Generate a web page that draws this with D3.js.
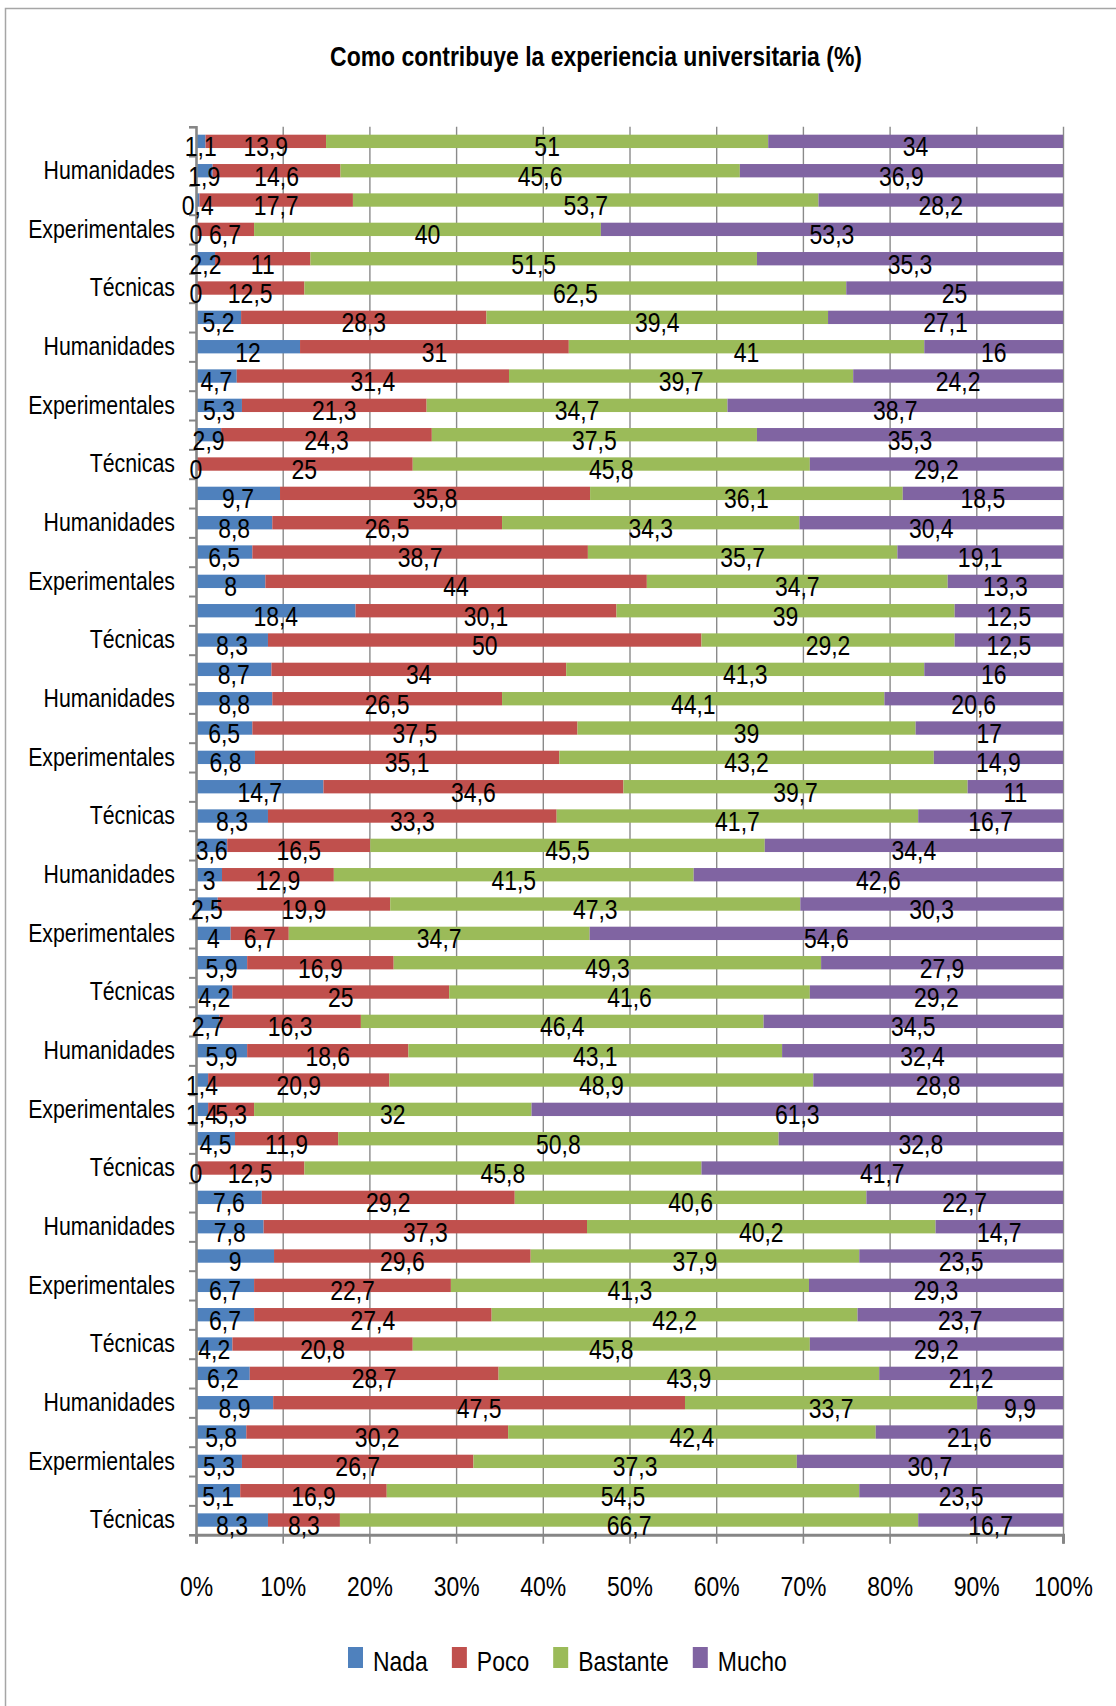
<!DOCTYPE html>
<html>
<head>
<meta charset="utf-8">
<script src="https://cdn.jsdelivr.net/npm/d3@7"></script>
<style>
  html, body { margin: 0; padding: 0; background: #fff; }
  svg { display: block; }
  text { font-family: "Liberation Sans", Arial, sans-serif; fill: #000; }
</style>
</head>
<body>
<script>
// ---- data ----
const title = "Como contribuye la experiencia universitaria (%)";
const seriesNames = ["Nada", "Poco", "Bastante", "Mucho"];
const seriesColors = ["#4F81BD", "#C0504D", "#9BBB59", "#8064A2"];
// one visible label per pair of bars (shown on the second bar of each pair)
const groupLabels = ["Humanidades","Experimentales","Técnicas",
  "Humanidades","Experimentales","Técnicas",
  "Humanidades","Experimentales","Técnicas",
  "Humanidades","Experimentales","Técnicas",
  "Humanidades","Experimentales","Técnicas",
  "Humanidades","Experimentales","Técnicas",
  "Humanidades","Experimentales","Técnicas",
  "Humanidades","Expermientales","Técnicas"];
const nada = [1.1,1.9,0.4,0,2.2,0,5.2,12,4.7,5.3,2.9,0,9.7,8.8,6.5,8,18.4,8.3,8.7,8.8,6.5,6.8,14.7,8.3,3.6,3,2.5,4,5.9,4.2,2.7,5.9,1.4,1.4,4.5,0,7.6,7.8,9,6.7,6.7,4.2,6.2,8.9,5.8,5.3,5.1,8.3];
const poco = [13.9,14.6,17.7,6.7,11,12.5,28.3,31,31.4,21.3,24.3,25,35.8,26.5,38.7,44,30.1,50,34,26.5,37.5,35.1,34.6,33.3,16.5,12.9,19.9,6.7,16.9,25,16.3,18.6,20.9,5.3,11.9,12.5,29.2,37.3,29.6,22.7,27.4,20.8,28.7,47.5,30.2,26.7,16.9,8.3];
const bastante = [51,45.6,53.7,40,51.5,62.5,39.4,41,39.7,34.7,37.5,45.8,36.1,34.3,35.7,34.7,39,29.2,41.3,44.1,39,43.2,39.7,41.7,45.5,41.5,47.3,34.7,49.3,41.6,46.4,43.1,48.9,32,50.8,45.8,40.6,40.2,37.9,41.3,42.2,45.8,43.9,33.7,42.4,37.3,54.5,66.7];
const mucho = [34,36.9,28.2,53.3,35.3,25,27.1,16,24.2,38.7,35.3,29.2,18.5,30.4,19.1,13.3,12.5,12.5,16,20.6,17,14.9,11,16.7,34.4,42.6,30.3,54.6,27.9,29.2,34.5,32.4,28.8,61.3,32.8,41.7,22.7,14.7,23.5,29.3,23.7,29.2,21.2,9.9,21.6,30.7,23.5,16.7];
const xTicks = [0,0.1,0.2,0.3,0.4,0.5,0.6,0.7,0.8,0.9,1];

// ---- build table ----
const rows = nada.map((v, i) => ({
  id: i,
  label: (i % 2 === 1) ? groupLabels[(i - 1) / 2] : "",
  Nada: nada[i], Poco: poco[i], Bastante: bastante[i], Mucho: mucho[i]
}));

const W = 1116, H = 1706;
const SX = 0.82; // condensed text look
const plot = { left: 196, right: 1063, top: 126.7, bottom: 1534.7 };

const svg = d3.select("body").append("svg").attr("width", W).attr("height", H);

// helper: condensed text at (x, y)
function ctext(sel, x, y) {
  return sel.append("text").attr("transform", `translate(${x},${y}) scale(${SX},1)`);
}

// chart frame
svg.append("rect")
  .attr("x", 5.5).attr("y", 8.5).attr("width", 1300).attr("height", 1900)
  .attr("fill", "#fff").attr("stroke", "#a6a6a6").attr("stroke-width", 1.5);

// title
ctext(svg, 596, 66)
  .attr("text-anchor", "middle")
  .attr("font-size", 28).attr("font-weight", "bold")
  .text(title);

const x = d3.scaleLinear().domain([0, 1]).range([plot.left, plot.right]);
const y = d3.scaleBand().domain(rows.map(d => d.id))
  .range([plot.top, plot.bottom]).paddingInner(0.545).paddingOuter(0.2725);
const yEdge = d3.scaleLinear().domain([0, rows.length]).range([plot.top, plot.bottom]);

// vertical gridlines
const xGrid = d3.axisBottom(x).tickValues(xTicks)
  .tickSize(-(plot.bottom - plot.top)).tickFormat("");
svg.append("g").attr("transform", `translate(0,${plot.bottom})`).call(xGrid)
  .call(g => g.select(".domain").remove())
  .call(g => g.selectAll("line").attr("stroke", "#8a8a8a").attr("stroke-width", 1.4));

// stacked bars
const stack = d3.stack().keys(seriesNames).offset(d3.stackOffsetExpand);
const layers = stack(rows);

const gBars = svg.append("g");
layers.forEach((layer, li) => {
  gBars.append("g").attr("fill", seriesColors[li])
    .selectAll("rect").data(layer).join("rect")
    .attr("x", d => x(d[0]))
    .attr("y", d => y(d.data.id))
    .attr("width", d => Math.max(0, x(d[1]) - x(d[0])))
    .attr("height", y.bandwidth());
});

// bottom axis with labels
const xAxisLab = d3.axisBottom(x).tickValues(xTicks).tickSize(9).tickPadding(32)
  .tickFormat(d3.format(".0%"));
svg.append("g").attr("transform", `translate(0,${plot.bottom})`).call(xAxisLab)
  .call(g => g.select(".domain").attr("stroke", "#868686").attr("stroke-width", 3))
  .call(g => g.selectAll("line").attr("stroke", "#868686").attr("stroke-width", 1.6))
  .call(g => g.selectAll("text").attr("font-size", 28).attr("fill", "#000")
    .attr("font-family", null).attr("transform", `scale(${SX},1)`));

// left axis: ticks at band edges
const yEdgeAxis = d3.axisLeft(yEdge).tickValues(d3.range(0, rows.length + 1))
  .tickSize(7).tickFormat("");
svg.append("g").attr("transform", `translate(${plot.left},0)`).call(yEdgeAxis)
  .call(g => g.select(".domain").attr("stroke", "#868686").attr("stroke-width", 2.5))
  .call(g => g.selectAll("line").attr("stroke", "#868686").attr("stroke-width", 2));

// left axis: category labels
const yAxis = d3.axisLeft(y).tickSize(0).tickPadding(21 / SX)
  .tickFormat(id => rows[id].label);
svg.append("g").attr("transform", `translate(${plot.left},0)`).call(yAxis)
  .call(g => g.select(".domain").remove())
  .call(g => g.selectAll("text").attr("font-size", 26).attr("fill", "#000")
    .attr("font-family", null).attr("transform", `scale(${SX},1)`));

// data labels
const fmt = v => String(v).replace(".", ",");
const gLab = svg.append("g").attr("font-size", 28).attr("text-anchor", "middle");
layers.forEach((layer, li) => {
  const key = seriesNames[li];
  gLab.append("g").selectAll("text").data(layer).join("text")
    .attr("transform", d =>
      `translate(${x((d[0] + d[1]) / 2)},${y(d.data.id) + y.bandwidth() / 2 + 15}) scale(${SX},1)`)
    .text(d => fmt(d.data[key]));
});

// legend
const legend = svg.append("g").attr("font-size", 28);
let lx = 348;
seriesNames.forEach((name, i) => {
  legend.append("rect").attr("x", lx).attr("y", 1647).attr("width", 15).attr("height", 21)
    .attr("fill", seriesColors[i]);
  const t = ctext(legend, lx + 25, 1671).text(name);
  lx += 25 + t.node().getComputedTextLength() * SX + 24;
});
</script>
</body>
</html>
